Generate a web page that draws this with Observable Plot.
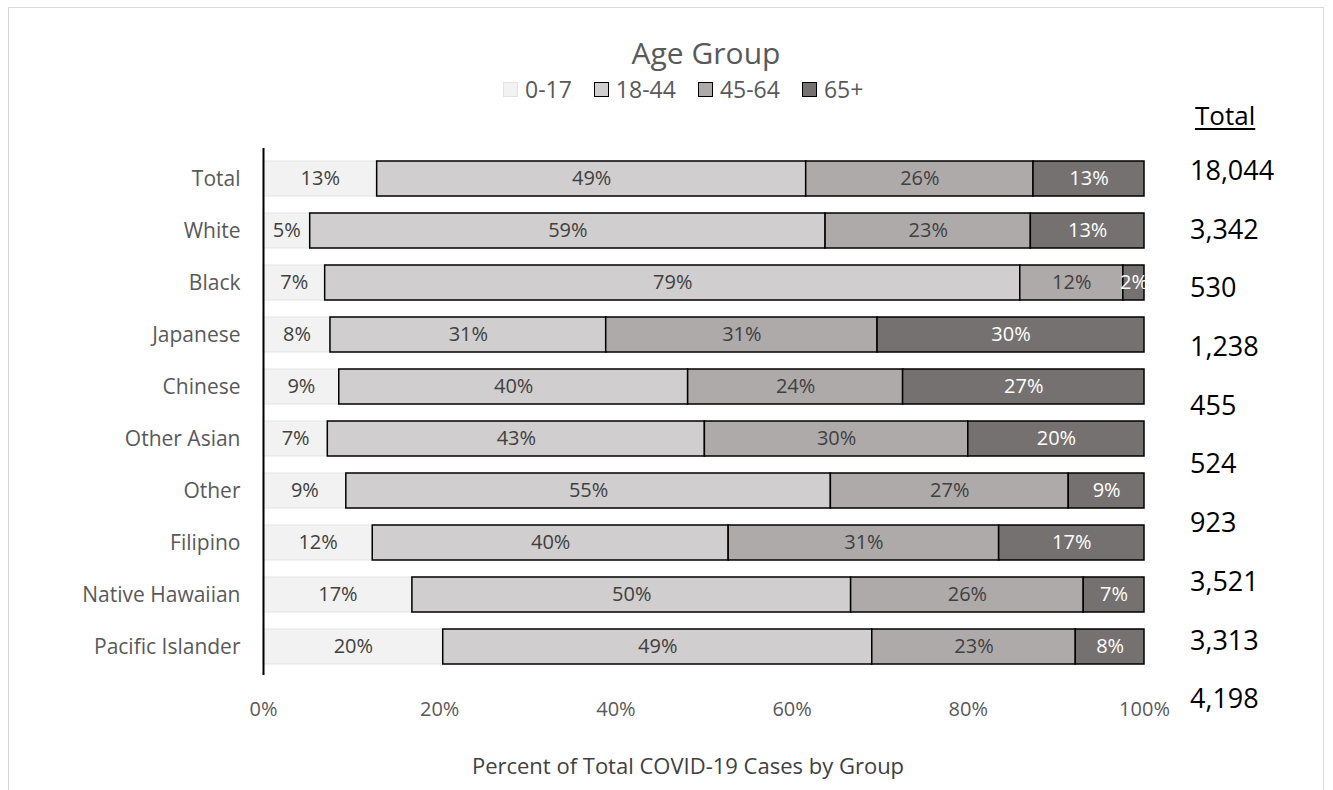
<!DOCTYPE html>
<html>
<head>
<meta charset="utf-8">
<script src="https://cdn.jsdelivr.net/npm/d3@7"></script>
<script src="https://cdn.jsdelivr.net/npm/@observablehq/plot@0.6"></script>
<style>
  html, body { margin: 0; padding: 0; background: #fff; overflow: hidden; }
  #wrap { position: relative; width: 1333px; height: 790px; font-family: "Open Sans", sans-serif; }
  #frame { position: absolute; left: 8px; top: 7px; width: 1316px; height: 820px; border: 1px solid #d9d9d9; box-sizing: border-box; }
  #title { position: absolute; left: 0; width: 1412px; top: 37px; text-align: center; font-size: 30px; color: #595959; line-height: 32px; }
  #legend { position: absolute; left: 503px; top: 76px; height: 26px; display: flex; align-items: center; font-size: 23px; line-height: 26px; color: #595959; }
  .item { display: flex; align-items: center; margin-right: 22px; }
  .sw { width: 13px; height: 13px; border: 1.5px solid #000; margin-right: 7px; }
  #chart { position: absolute; left: 0; top: 0; }
  #xtitle { position: absolute; left: 0; width: 1376px; top: 750px; text-align: center; font-size: 22px; color: #404040; line-height: 30px; }
  #thdr { position: absolute; left: 1195px; top: 98px; font-size: 26px; line-height: 34px; color: #000; text-decoration: underline; text-underline-offset: 3px; }
  #totals { position: absolute; left: 1190px; top: 153px; font-size: 27px; color: #000; }
  #totals .v { height: 58.7px; line-height: 34px; }
</style>
</head>
<body>
<div id="wrap">
  <div id="frame"></div>
  <div id="chart"></div>
  <div id="title">Age Group</div>
  <div id="legend"></div>
  <div id="xtitle">Percent of Total COVID-19 Cases by Group</div>
  <div id="thdr"></div>
  <div id="totals"></div>
</div>
<script>
// ---- Data ----
const groups = ["Total", "White", "Black", "Japanese", "Chinese", "Other Asian", "Other", "Filipino", "Native Hawaiian", "Pacific Islander"];
const ages = ["0-17", "18-44", "45-64", "65+"];
const ageColors = ["#f2f2f2", "#d0cece", "#aeaaaa", "#767171"];
const pct0_17  = [12.9, 5.3, 7.0, 7.6, 8.6, 7.3, 9.4, 12.4, 16.9, 20.4];
const pct18_44 = [48.7, 58.5, 78.9, 31.3, 39.6, 42.8, 55.0, 40.4, 49.8, 48.7];
const pct45_64 = [25.8, 23.3, 11.7, 30.8, 24.4, 29.9, 27.0, 30.7, 26.4, 23.1];
const pct65    = [12.6, 12.9, 2.4, 30.3, 27.4, 20.0, 8.6, 16.5, 6.9, 7.8];
const totalHeader = "Total";
const totals = ["18,044", "3,342", "530", "1,238", "455", "524", "923", "3,521", "3,313", "4,198"];
const xTicks = [0, 20, 40, 60, 80, 100];

// ---- Build stacked table ----
const series = [pct0_17, pct18_44, pct45_64, pct65];
const rows = [];
groups.forEach((g, i) => {
  let acc = 0;
  ages.forEach((a, j) => {
    const v = series[j][i];
    rows.push({group: g, age: a, value: v, x1: acc, x2: acc + v, mid: acc + v / 2, label: Math.round(v) + "%"});
    acc += v;
  });
});
const young = rows.filter(d => d.age === "0-17");
const older = rows.filter(d => d.age !== "0-17");
const darkLbl = rows.filter(d => d.age !== "65+");
const lightLbl = rows.filter(d => d.age === "65+");

const font = "'Open Sans', sans-serif";
const chart = Plot.plot({
  width: 1333,
  height: 790,
  marginLeft: 263,
  marginRight: 189,
  marginTop: 148,
  marginBottom: 115,
  style: {fontFamily: font, fontSize: "20px", color: "#595959", background: "transparent"},
  x: {domain: [0, 100], ticks: xTicks, tickFormat: d => d + "%", tickSize: 0, tickPadding: 26, label: null},
  y: {domain: groups, range: [157, 668], paddingInner: 0.318, paddingOuter: 0, tickSize: 0, tickPadding: 23, label: null},
  color: {domain: ages, range: ageColors},
  marks: [
    Plot.barX(young, {x1: "x1", x2: "x2", y: "group", fill: "age", stroke: "#e3e3e3", strokeWidth: 1}),
    Plot.barX(older, {x1: "x1", x2: "x2", y: "group", fill: "age", stroke: "#000", strokeWidth: 1.5}),
    Plot.text(darkLbl, {x: "mid", y: "group", text: "label", fill: "#404040", fontSize: 20}),
    Plot.text(lightLbl, {x: "mid", y: "group", text: "label", fill: "#fff", fontSize: 20}),
    Plot.axisY({tickSize: 0, tickPadding: 23, fontSize: 21, label: null}),
    Plot.axisX({ticks: xTicks, tickFormat: d => d + "%", tickSize: 0, tickPadding: 26, fontSize: 20, label: null}),
    Plot.ruleX([0], {stroke: "#000", strokeWidth: 2})
  ]
});
document.getElementById("chart").appendChild(chart);

// ---- Legend ----
const leg = document.getElementById("legend");
ages.forEach((a, i) => {
  const it = document.createElement("div");
  it.className = "item";
  const sw = document.createElement("div");
  sw.className = "sw";
  sw.style.background = ageColors[i];
  if (i === 0) sw.style.borderColor = "#e3e3e3";
  const t = document.createElement("span");
  t.textContent = a;
  it.appendChild(sw); it.appendChild(t);
  leg.appendChild(it);
});

// ---- Totals column ----
document.getElementById("thdr").textContent = totalHeader;
const tot = document.getElementById("totals");
totals.forEach(v => {
  const d = document.createElement("div");
  d.className = "v"; d.textContent = v;
  tot.appendChild(d);
});
</script>
</body>
</html>
